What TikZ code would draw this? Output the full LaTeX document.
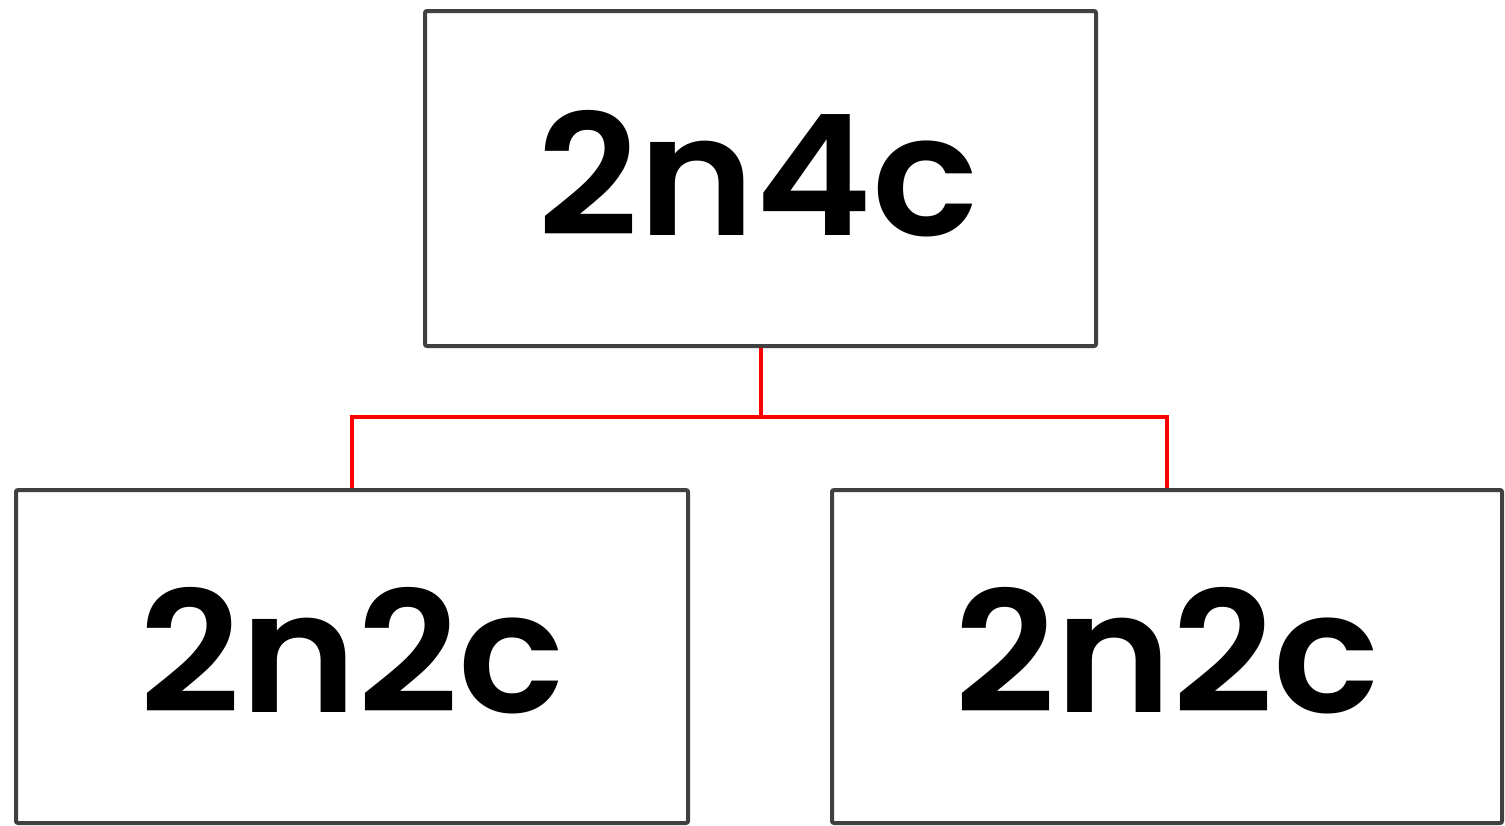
\documentclass[tikz,border=0pt]{standalone}
\usepackage{fontspec}
\setmainfont{Poppins}[BoldFont={Poppins SemiBold},BoldFeatures={FakeStretch=1.05}]
\definecolor{boxgray}{HTML}{404040}
\definecolor{linkred}{HTML}{FF0000}
\begin{document}
\begin{tikzpicture}[x=1pt,y=-1pt,
  box/.style={draw=boxgray,line width=4pt,rounded corners=2pt,inner sep=0pt},
  lbl/.style={font=\fontsize{168}{200}\selectfont\bfseries,inner sep=0pt},
  link/.style={draw=linkred,line width=4pt}]
\useasboundingbox (0,0) rectangle (1505,825);
\node[box,minimum width=671pt,minimum height=335pt] (top) at (760.5,178.5) {};
\node[box,minimum width=672pt,minimum height=333pt] (bl) at (352,656.5) {};
\node[box,minimum width=670pt,minimum height=333pt] (br) at (1167,656.5) {};
\node[lbl] (ttop) at (758,174) {2n4c};
\node[lbl] (tbl) at (352,651) {2n2c};
\node[lbl] (tbr) at (1167,651) {2n2c};
\coordinate (j) at (760.5,417);
\draw[link] (top.south) -- (j);
\draw[link] (j) -| (bl.north);
\draw[link] (j) -| (br.north);
\end{tikzpicture}
\end{document}
